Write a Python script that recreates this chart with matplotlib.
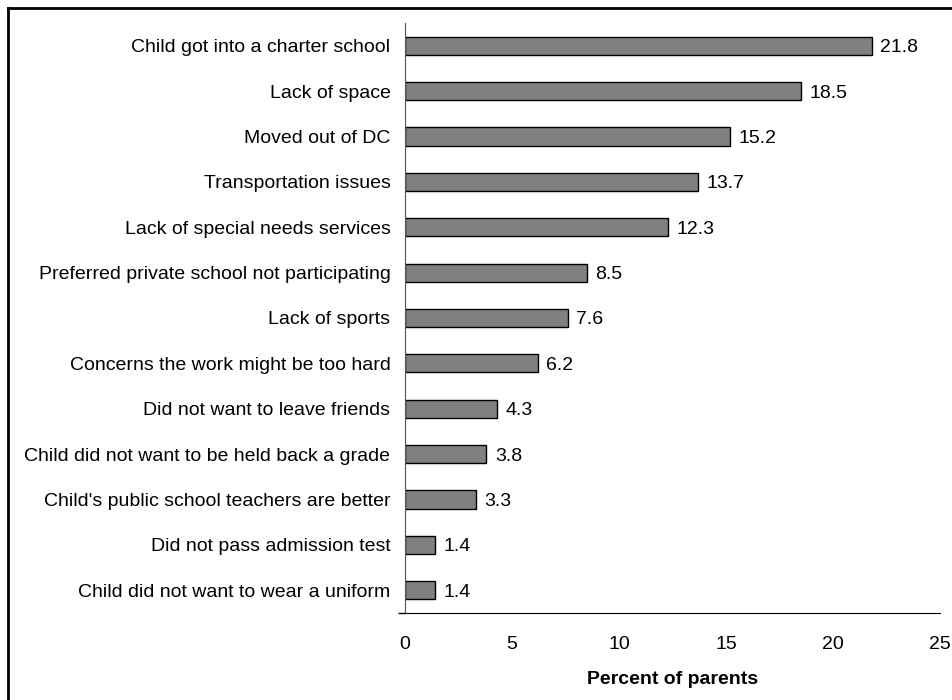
import matplotlib.pyplot as plt
from matplotlib.lines import Line2D

plt.rcParams['font.family'] = ['Liberation Sans', 'DejaVu Sans']

reasons = [
    "Child got into a charter school",
    "Lack of space",
    "Moved out of DC",
    "Transportation issues",
    "Lack of special needs services",
    "Preferred private school not participating",
    "Lack of sports",
    "Concerns the work might be too hard",
    "Did not want to leave friends",
    "Child did not want to be held back a grade",
    "Child's public school teachers are better",
    "Did not pass admission test",
    "Child did not want to wear a uniform",
]
percent = [21.8, 18.5, 15.2, 13.7, 12.3, 8.5, 7.6, 6.2, 4.3, 3.8, 3.3, 1.4, 1.4]
x_ticks = [0, 5, 10, 15, 20, 25]

fig = plt.figure(figsize=(9.52, 7.0), dpi=100)
ax = fig.add_axes([405 / 952, 1 - 613 / 700, (940 - 405) / 952, (613 - 23) / 700])

pos = list(range(len(reasons)))[::-1]
bars = ax.barh(pos, percent, height=0.4, color='#808080', edgecolor='black', linewidth=1)
for b, v in zip(bars, percent):
    ax.text(b.get_width() + 0.4, b.get_y() + b.get_height() / 2, f"{v:.1f}",
            va='center_baseline', ha='left', fontsize=14)

ax.set_xlim(0, 25)
ax.set_ylim(-0.5, len(reasons) - 0.5)
ax.set_yticks(pos)
ax.set_yticklabels(reasons, fontsize=14)
ax.set_xticks(x_ticks)
ax.set_xticklabels([str(t) for t in x_ticks], fontsize=14)
ax.tick_params(axis='both', length=0)
ax.tick_params(axis='y', pad=10.5)
ax.tick_params(axis='x', pad=16.5)

# small cross at the origin
ax.set_xticks([0], minor=True)
ax.set_yticks([-0.5], minor=True)
ax.tick_params(which='minor', length=5, width=1, direction='out')

for s in ['top', 'right']:
    ax.spines[s].set_visible(False)
ax.spines['left'].set_color('#555555')
ax.set_xlabel("Percent of parents", fontsize=14, fontweight='bold', labelpad=13)

# frame around the figure (runs off the right and bottom edges)
fig.add_artist(Line2D([8 / 952, 1.0], [1 - 8 / 700, 1 - 8 / 700], color='black', lw=2))
fig.add_artist(Line2D([8 / 952, 8 / 952], [0.0, 1 - 8 / 700], color='black', lw=2))

fig.savefig("out.png", dpi=100)
